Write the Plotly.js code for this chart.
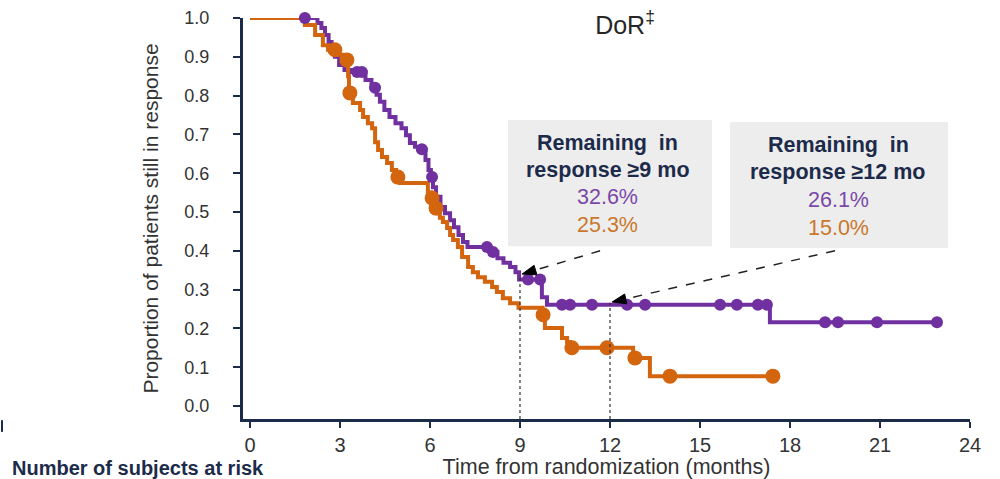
<!DOCTYPE html>
<html>
<head>
<meta charset="utf-8">
<script src="https://cdn.plot.ly/plotly-3.0.1.min.js"></script>
<style>html,body{margin:0;padding:0;background:#fff;}#chart{width:1000px;height:479px;}</style>
</head>
<body>
<div id="chart"></div>
<script>
// Kaplan-Meier step data (time in months, proportion still in response)
var purpleTimes = [0, 2.25, 2.38, 2.5, 2.62, 2.72, 2.83, 2.97, 3.15, 3.4, 3.85, 4.05, 4.22, 4.33, 4.48, 4.65, 4.85, 5.05, 5.2, 5.33, 5.5, 5.6, 5.85, 5.95, 6.03, 6.1, 6.2, 6.35, 6.5, 6.67, 6.8, 6.95, 7.1, 7.25, 8.0, 8.25, 8.45, 8.67, 8.85, 8.97, 9.73, 9.9, 17.33, 22.9];
var purpleSurv  = [1.0, 0.987, 0.974, 0.956, 0.938, 0.918, 0.9, 0.879, 0.866, 0.861, 0.84, 0.82, 0.802, 0.784, 0.763, 0.745, 0.729, 0.716, 0.698, 0.678, 0.668, 0.662, 0.634, 0.608, 0.59, 0.564, 0.539, 0.513, 0.497, 0.479, 0.461, 0.441, 0.423, 0.41, 0.397, 0.381, 0.369, 0.358, 0.345, 0.326, 0.28, 0.261, 0.216, 0.216];
var purpleCensT = [1.83, 3.57, 3.73, 4.17, 5.73, 6.07, 7.9, 8.1, 9.27, 9.67, 10.4, 10.67, 11.4, 12.57, 13.17, 15.67, 16.23, 16.93, 17.23, 19.17, 19.6, 20.9, 22.9];
var purpleCensS = [1.0, 0.861, 0.861, 0.82, 0.662, 0.59, 0.41, 0.397, 0.326, 0.326, 0.261, 0.261, 0.261, 0.261, 0.261, 0.261, 0.261, 0.261, 0.261, 0.216, 0.216, 0.216, 0.216];

var orangeTimes = [0, 1.83, 2.17, 2.43, 2.6, 2.95, 3.1, 3.27, 3.3, 3.43, 3.67, 3.77, 3.93, 4.07, 4.17, 4.27, 4.4, 4.57, 4.73, 4.87, 5.0, 5.93, 6.03, 6.13, 6.23, 6.33, 6.43, 6.57, 6.67, 6.77, 6.93, 7.07, 7.27, 7.43, 7.6, 7.83, 8.07, 8.23, 8.43, 8.67, 8.95, 9.75, 9.83, 10.4, 10.57, 10.67, 12.77, 13.33, 17.43];
var orangeSurv  = [1.0, 0.982, 0.956, 0.93, 0.918, 0.905, 0.892, 0.85, 0.807, 0.781, 0.763, 0.745, 0.729, 0.716, 0.68, 0.66, 0.642, 0.626, 0.608, 0.59, 0.575, 0.55, 0.536, 0.51, 0.497, 0.485, 0.474, 0.459, 0.441, 0.428, 0.41, 0.384, 0.358, 0.345, 0.332, 0.32, 0.307, 0.294, 0.278, 0.265, 0.253, 0.235, 0.201, 0.175, 0.165, 0.15, 0.124, 0.077, 0.077];
var orangeCensT = [2.83, 3.23, 3.33, 4.93, 6.07, 6.2, 9.77, 10.73, 11.9, 12.83, 14.0, 17.43];
var orangeCensS = [0.918, 0.892, 0.807, 0.59, 0.536, 0.51, 0.235, 0.15, 0.15, 0.124, 0.077, 0.077];

var xTickVals = [0, 3, 6, 9, 12, 15, 18, 21, 24];
var yTickVals = [0, 0.1, 0.2, 0.3, 0.4, 0.5, 0.6, 0.7, 0.8, 0.9, 1.0];

var landmarkTimes = [9, 12];
var purpleLandmark = [0.326, 0.261];
var orangeLandmark = [0.253, 0.150];

var PURPLE = '#7030A0', ORANGE = '#D4650F', NAVY = '#1C2B4A';
var FONT = 'Liberation Sans, Arial, sans-serif';

var XR = [-0.233, 24], YR = [-0.0335, 1.0];
var PLOT_W = 1000 - 243 - 30, PLOT_H = 479 - 18 - 60;
var pxPerX = PLOT_W / (XR[1] - XR[0]), pxPerY = PLOT_H / (YR[1] - YR[0]);

var traces = [
  {x: purpleTimes, y: purpleSurv, mode: 'lines', line: {shape: 'hv', color: PURPLE, width: 4}, hoverinfo: 'skip'},
  {x: orangeTimes, y: orangeSurv, mode: 'lines', line: {shape: 'hv', color: ORANGE, width: 4}, hoverinfo: 'skip'},
  {x: purpleCensT, y: purpleCensS, mode: 'markers', marker: {color: PURPLE, size: 12}, cliponaxis: false},
  {x: orangeCensT, y: orangeCensS, mode: 'markers', marker: {color: ORANGE, size: 15}, cliponaxis: false}
];

function pct(v){ return (v*100).toFixed(1) + '%'; }

var boxes = [
  {x0: 8.6, x1: 15.4, y0: 0.412, y1: 0.737, cx: 11.93, ys: [0.678, 0.608, 0.539, 0.466], mo: 9},
  {x0: 16.0, x1: 23.27, y0: 0.407, y1: 0.732, cx: 19.6, ys: [0.673, 0.603, 0.531, 0.459], mo: 12}
];

var shapes = [], annotations = [];
boxes.forEach(function(b, i){
  shapes.push({type: 'rect', xref: 'x', yref: 'y', x0: b.x0, x1: b.x1, y0: b.y0, y1: b.y1,
    fillcolor: '#EDEDED', line: {width: 0}, layer: 'below'});
  var lines = [
    {t: '<b>Remaining  in</b>', c: NAVY},
    {t: '<b>response \u2265' + b.mo + ' mo</b>', c: NAVY},
    {t: pct(purpleLandmark[i]), c: '#7A48A8'},
    {t: pct(orangeLandmark[i]), c: '#C9782B'}
  ];
  lines.forEach(function(l, j){
    annotations.push({x: b.cx, y: b.ys[j], xref: 'x', yref: 'y', text: l.t, showarrow: false,
      font: {family: FONT, size: 21.5, color: l.c}, xanchor: 'center', yanchor: 'middle'});
  });
});

// dashed arrows (with triangular heads) and landmark verticals
var arrowTails = [[11.67, 0.40], [19.5, 0.40]];
var arrowHeads = [[9.07, 0.34], [12.07, 0.268]];
for (var i = 0; i < 2; i++) {
  var h = arrowHeads[i], t = arrowTails[i];
  var dx = (t[0] - h[0]) * pxPerX, dy = -(t[1] - h[1]) * pxPerY;
  var len = Math.sqrt(dx*dx + dy*dy), ux = dx/len, uy = dy/len;
  var L = 14, W = 5;
  var bx = ux*L, by = uy*L;
  var c1 = [bx - uy*W, by + ux*W], c2 = [bx + uy*W, by - ux*W];
  function toData(p){ return [h[0] + p[0]/pxPerX, h[1] - p[1]/pxPerY]; }
  var d1 = toData(c1), d2 = toData(c2), db = toData([bx, by]);
  shapes.push({type: 'line', xref: 'x', yref: 'y', x0: t[0], y0: t[1], x1: db[0], y1: db[1],
    line: {color: '#222', width: 1.5, dash: 'dash'}});
  shapes.push({type: 'path', xref: 'x', yref: 'y',
    path: 'M ' + h[0] + ',' + h[1] + ' L ' + d1[0] + ',' + d1[1] + ' L ' + d2[0] + ',' + d2[1] + ' Z',
    fillcolor: '#000', line: {color: '#000', width: 1}});
  shapes.push({type: 'line', xref: 'x', yref: 'y', x0: landmarkTimes[i], x1: landmarkTimes[i],
    y0: YR[0], y1: purpleLandmark[i] + 0.005, line: {color: '#333', width: 1.2, dash: '3px,3px'}});
}

// small mark at far left
shapes.push({type: 'line', xref: 'paper', yref: 'paper', x0: -0.3315, x1: -0.3315, y0: -0.003, y1: -0.032,
  line: {color: NAVY, width: 2}});

annotations.push({xref: 'paper', yref: 'paper', x: -0.3205, y: -0.122, xanchor: 'left', yanchor: 'middle',
  text: '<b>Number of subjects at risk</b>', showarrow: false, font: {family: FONT, size: 20, color: NAVY}});

var layout = {
  width: 1000, height: 479,
  margin: {l: 243, r: 30, t: 18, b: 60, pad: 0},
  paper_bgcolor: '#fff', plot_bgcolor: '#fff',
  showlegend: false,
  font: {family: FONT, color: '#333'},
  title: {text: 'DoR<sup>\u2021</sup>', x: 0.625, xref: 'container', xanchor: 'center', y: 1 - 25/479, yref: 'container', yanchor: 'middle',
    font: {family: FONT, size: 25, color: '#262626'}},
  xaxis: {range: XR, tickvals: xTickVals, showline: true, linecolor: NAVY, linewidth: 3,
    ticks: 'outside', ticklen: 6, tickwidth: 2, tickcolor: NAVY, showgrid: false, zeroline: false,
    tickfont: {family: FONT, size: 20, color: '#333'}, automargin: false,
    title: {text: 'Time from randomization (months)', font: {family: FONT, size: 21.5, color: '#333'}, standoff: 5}},
  yaxis: {range: YR, tickvals: yTickVals, tickformat: '.1f', showline: true, linecolor: NAVY, linewidth: 3,
    ticks: 'outside', ticklen: 7, tickwidth: 2, tickcolor: NAVY, showgrid: false, zeroline: false,
    ticklabelstandoff: 20, tickfont: {family: FONT, size: 18, color: '#333'}, automargin: false,
    title: {text: 'Proportion of patients still in response', font: {family: FONT, size: 21, color: '#333'}, standoff: 21}},
  shapes: shapes,
  annotations: annotations
};

Plotly.newPlot('chart', traces, layout, {staticPlot: true, displayModeBar: false});
</script>
</body>
</html>
